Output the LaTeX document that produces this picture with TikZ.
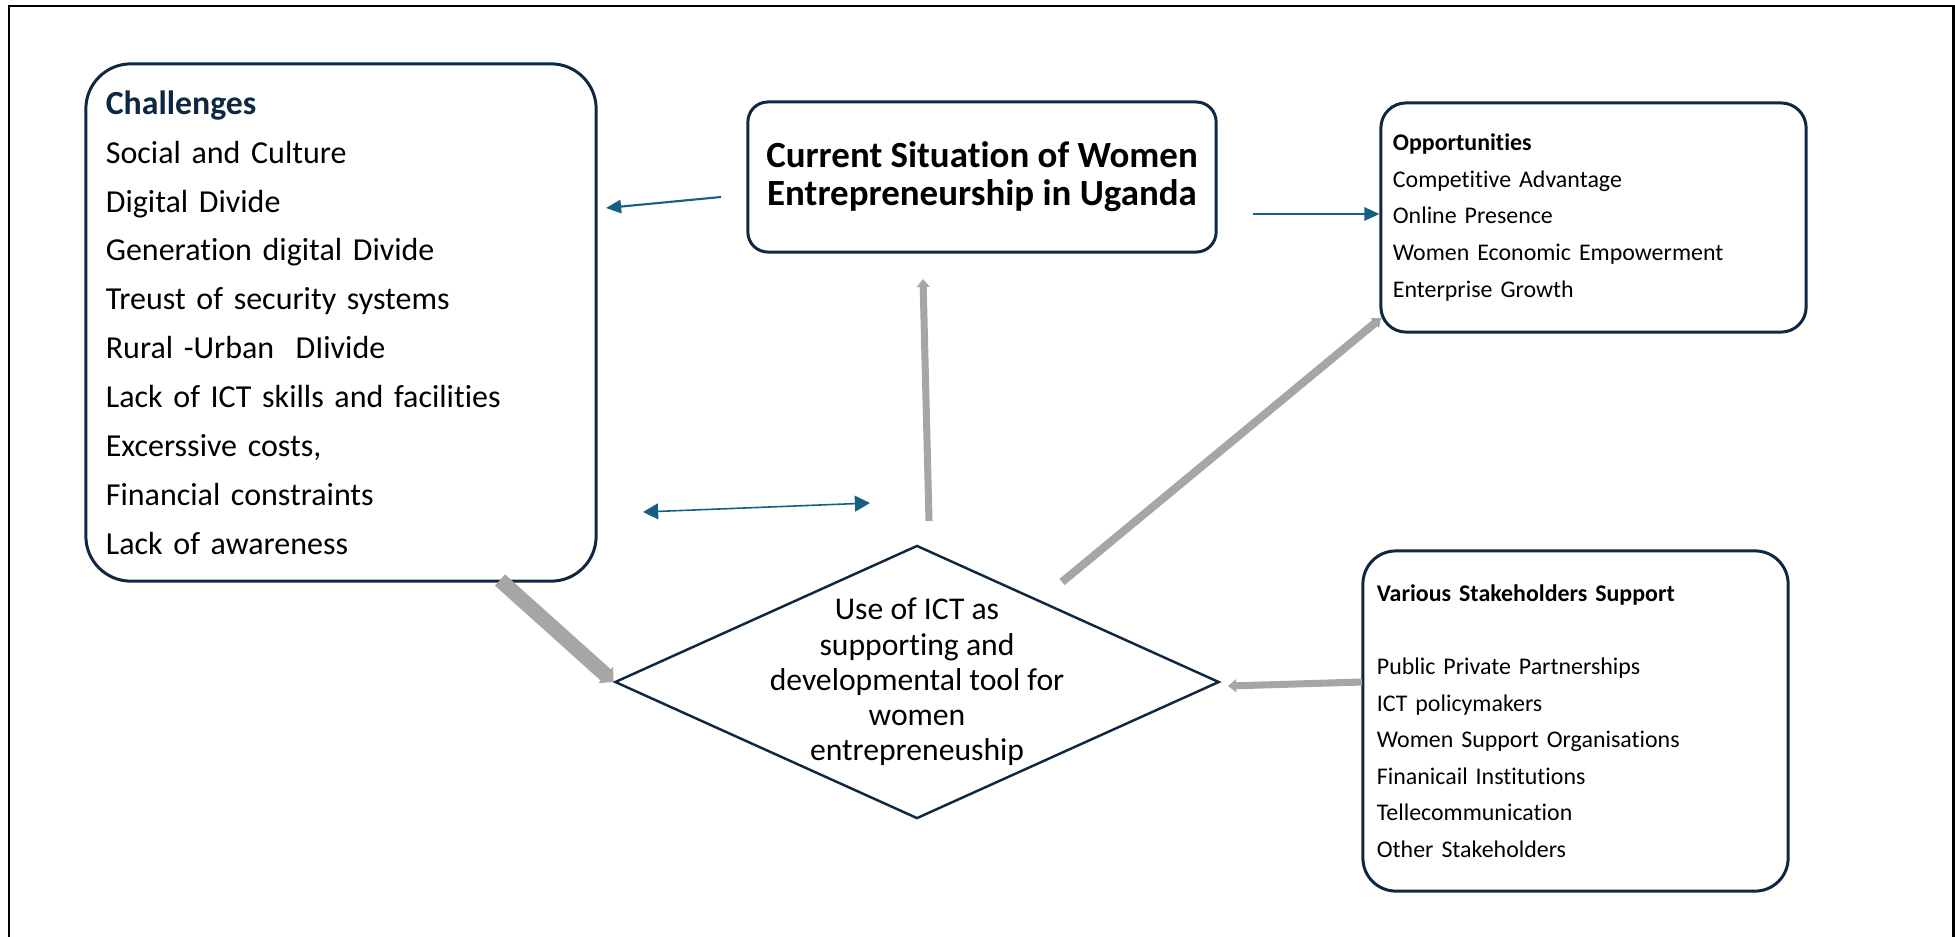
\documentclass[tikz,border=0pt]{standalone}
\usepackage{fontspec}
\setmainfont{Carlito}[Ligatures={NoCommon}]
\usetikzlibrary{arrows.meta,shapes.geometric}
\definecolor{navy}{HTML}{0E2841}
\definecolor{arrblue}{HTML}{156082}
\definecolor{arrgray}{HTML}{A6A6A6}
\tikzset{
	box/.style={draw=navy, line width=0.85pt, rounded corners=#1, inner ysep=0pt, align=left},
	blue arrow/.style={draw=arrblue, line width=0.6pt, -{Triangle[length=4.3pt,width=3.8pt]}},
	blue link/.style={draw=arrblue, line width=0.45pt, {Triangle[length=4.3pt,width=4.5pt]}-{Triangle[length=4.3pt,width=4.5pt]}},
	gray arrow/.style={draw=arrgray, line width=2pt, -{Triangle[length=2.3pt,width=3.6pt]}}
}

\begin{document}
\begin{tikzpicture}[x=0.01cm, y=-0.01cm]
	%%%%% START %%%%%
	\useasboundingbox (0,0) rectangle (1955,936);
	\draw[line width=0.85pt] (9,960) -- (9,6) -- (1953,6) -- (1953,960);
	
	% boxes
	\node[box=0.45cm, minimum width=5.10cm, minimum height=5.17cm, text width=4.70cm, inner xsep=0.2cm, font=\fontsize{9.1}{13.9}\selectfont] (chal) at (341,322.5) {{\fontsize{9.6}{13.9}\selectfont\bfseries\color{navy}Challenges}\\Social and Culture\\Digital Divide\\Generation digital Divide\\Treust of security systems\\Rural -Urban~ DIivide\\Lack of ICT skills and facilities\\Excerssive costs,\\Financial constraints\\Lack of awareness};
	\node[box=0.2cm, minimum width=4.68cm, minimum height=1.50cm, align=center, font=\fontsize{10.5}{10.9}\selectfont\bfseries] (cur) at (982,177) {Current Situation of Women\\Entrepreneurship in Uganda};
	\node[box=0.25cm, minimum width=4.25cm, minimum height=2.29cm, text width=4.01cm, inner xsep=0.12cm, font=\fontsize{6.8}{10.4}\selectfont] (opp) at (1593.5,217.5) {\textbf{Opportunities}\\Competitive Advantage\\Online Presence\\Women Economic Empowerment\\Enterprise Growth};
	\node[box=0.33cm, minimum width=4.25cm, minimum height=3.40cm, text width=3.97cm, inner xsep=0.14cm, font=\fontsize{6.8}{10.4}\selectfont] (stake) at (1575.5,721) {\textbf{Various Stakeholders Support}\\[10.4pt]Public Private Partnerships\\ICT policymakers\\Women Support Organisations\\Finanicail Institutions\\Tellecommunication\\Other Stakeholders};
	
	% diamond
	\node[draw=navy, line width=0.7pt, shape=diamond, inner sep=0pt, minimum width=6.04cm, minimum height=2.73cm] (ict) at (917,682) {};
	\node[align=center, font=\fontsize{9}{10}\selectfont] (ictlbl) at (ict.center) {Use of ICT as\\supporting and\\developmental tool for\\women\\entrepreneuship};
	
	% arrows
	\coordinate (curW) at (721,197);
	\coordinate (chalE) at (606,208);
	\draw[blue arrow] (curW) -- (chalE);
	\coordinate (curE) at (1253,214);
	\draw[blue arrow] (curE) -- (curE -| opp.west);
	\coordinate (lnkL) at (643,512);
	\coordinate (lnkR) at (870,503);
	\draw[blue link] (lnkL) -- (lnkR);
	\coordinate (ictN) at (929,521);
	\coordinate (curS) at (923,279);
	\draw[gray arrow] (ictN) -- (curS);
	\coordinate (ictNE) at (1062,582);
	\coordinate (oppSW) at (1381,318);
	\draw[gray arrow, line width=2.3pt] (ictNE) -- (oppSW);
	\coordinate (chalS) at (500,580);
	\draw[gray arrow, line width=4.3pt, -{Triangle[length=3pt,width=6pt]}] (chalS) -- (ict.west);
	\coordinate (stakeW) at (1362,682);
	\coordinate (ictE) at (1228,686);
	\draw[gray arrow] (stakeW) -- (ictE);
	
	%%%%% END %%%%%
\end{tikzpicture}
\end{document}
